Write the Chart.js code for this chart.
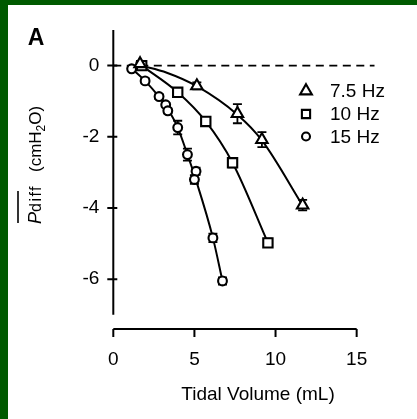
<!DOCTYPE html>
<html>
<head>
<meta charset="utf-8">
<script src="https://cdn.jsdelivr.net/npm/chart.js@4.4.0/dist/chart.umd.min.js"></script>
<style>
  html, body { margin: 0; padding: 0; background: #fff; }
  canvas { display: block; }
</style>
</head>
<body>
<canvas id="pdiffchart" width="417" height="419"></canvas>
<script>
// tidal volume (mL) vs mean Pdiff (cmH2O)
var volume75 = [1.65, 5.15, 7.65, 9.16, 11.67];
var pdiff75 = [0.05, -0.57, -1.35, -2.08, -3.92];
var sem75 = [0.04, 0.1, 0.27, 0.21, 0.15];

var volume10 = [1.75, 3.97, 5.7, 7.35, 9.53];
var pdiff10 = [0.0, -0.75, -1.57, -2.73, -4.98];
var sem10 = [0.03, 0.06, 0.08, 0.13, 0.12];

var volume15 = [1.13, 1.96, 2.82, 3.23, 3.36, 3.97, 4.57, 5.1, 5.0, 6.14, 6.73];
var pdiff15 = [-0.09, -0.43, -0.87, -1.1, -1.27, -1.74, -2.5, -2.97, -3.2, -4.84, -6.05];
var sem15 = [0.03, 0.07, 0.07, 0.05, 0.07, 0.19, 0.17, 0.1, 0.12, 0.12, 0.1];

// fitted curves
var fitVol75 = [1.7, 3.3, 5.15, 7.65, 9.16, 11.7];
var fitPd75 = [0.0, -0.2, -0.58, -1.38, -2.1, -3.95];
var fitVol10 = [1.75, 3.97, 5.7, 7.35, 9.55];
var fitPd10 = [0.0, -0.75, -1.57, -2.73, -5.0];
var fitVol15 = [1.13, 1.96, 2.82, 3.3, 3.97, 4.57, 5.05, 6.14, 6.73];
var fitPd15 = [-0.08, -0.43, -0.88, -1.18, -1.74, -2.5, -3.15, -4.84, -6.05];

var zeroVol = [0, 16.1];
var zeroPd = [0, 0];

var seriesLabels = ["7.5 Hz", "10 Hz", "15 Hz"];
var xTicks = [0, 5, 10, 15];
var yTicks = [0, -2, -4, -6];

var FONT = "'Liberation Sans', Arial, Helvetica, sans-serif";

function pts(xs, ys) {
    return xs.map(function(x, i){ return {x: x, y: ys[i]}; });
}

function markerSet(label, xs, ys, style, r) {
    return {
        label: label,
        data: pts(xs, ys),
        showLine: false,
        pointStyle: style,
        pointRadius: r,
        pointBorderWidth: 2.1,
        borderWidth: 2.1,
        pointBorderColor: '#000',
        borderColor: '#000',
        pointBackgroundColor: '#fff',
        backgroundColor: '#fff',
        order: 0
    };
}

function fitSet(xs, ys) {
    return {
        data: pts(xs, ys),
        showLine: true,
        pointRadius: 0,
        borderColor: '#000',
        borderWidth: 2,
        cubicInterpolationMode: 'monotone',
        order: 1
    };
}

var markerStyles = [['triangle', 6.6], ['rect', 6.6], ['circle', 4.4]];
var legendStyles = [['triangle', 6.8], ['rect', 5.8], ['circle', 4]];

var decor = {
    id: 'decor',
    beforeDraw: function(chart) {
        var c = chart.ctx;
        c.save();
        c.fillStyle = '#fff';
        c.fillRect(0, 0, chart.width, chart.height);
        c.fillStyle = '#005a00';
        c.fillRect(0, 0, chart.width, 5);
        c.fillRect(0, 0, 8, chart.height);
        c.restore();
    },
    beforeDatasetsDraw: function(chart) {
        var c = chart.ctx;
        var xs = chart.scales.x, ys = chart.scales.y;
        var groups = [[volume75, pdiff75, sem75], [volume10, pdiff10, sem10], [volume15, pdiff15, sem15]];
        c.save();
        c.strokeStyle = '#000';
        c.lineWidth = 1.8;
        groups.forEach(function(g){
            g[0].forEach(function(v, i){
                var px = xs.getPixelForValue(v);
                var top = ys.getPixelForValue(g[1][i] + g[2][i]);
                var bot = ys.getPixelForValue(g[1][i] - g[2][i]);
                c.beginPath();
                c.moveTo(px, top); c.lineTo(px, bot);
                c.moveTo(px - 4.5, top); c.lineTo(px + 4.5, top);
                c.moveTo(px - 4.5, bot); c.lineTo(px + 4.5, bot);
                c.stroke();
            });
        });
        c.restore();
    },
    afterDraw: function(chart) {
        var c = chart.ctx;
        var xs = chart.scales.x, ys = chart.scales.y;
        var x0 = xs.getPixelForValue(0);
        var yb = chart.chartArea.bottom;
        c.save();
        c.strokeStyle = '#000';
        c.lineWidth = 2;
        // y axis, stops at -7
        c.beginPath();
        c.moveTo(x0, ys.getPixelForValue(1));
        c.lineTo(x0, ys.getPixelForValue(-7));
        yTicks.forEach(function(t){
            var py = ys.getPixelForValue(t);
            c.moveTo(x0 - 6, py); c.lineTo(x0 + 4, py);
        });
        c.stroke();
        // x axis, detached below
        c.beginPath();
        c.moveTo(x0, yb);
        c.lineTo(xs.getPixelForValue(15), yb);
        xTicks.forEach(function(t){
            var px = xs.getPixelForValue(t);
            c.moveTo(px, yb); c.lineTo(px, yb + 8);
        });
        c.stroke();

        c.fillStyle = '#000';
        // panel letter
        c.font = 'bold 23px ' + FONT;
        c.textAlign = 'center';
        c.textBaseline = 'alphabetic';
        c.fillText('A', 36, 45);

        // x title
        c.font = '19px ' + FONT;
        c.fillText('Tidal Volume (mL)', 258, 400);

        // y title, rotated
        c.save();
        c.translate(41, 224);
        c.rotate(-Math.PI / 2);
        c.textAlign = 'left';
        var x = 0;
        c.font = 'italic 18px ' + FONT;
        c.fillText('P', x, 0);
        x += c.measureText('P').width;
        c.font = '16px ' + FONT;
        c.letterSpacing = '1.5px';
        c.fillText('diff', x, 0);
        x += c.measureText('diff').width;
        c.letterSpacing = '0px';
        c.lineWidth = 1.6;
        c.beginPath();
        c.moveTo(1, -23); c.lineTo(33, -23);
        c.stroke();
        x = 52;
        c.font = '17px ' + FONT;
        c.fillText('(cmH', x, 0);
        x += c.measureText('(cmH').width;
        c.font = '12px ' + FONT;
        c.fillText('2', x, 4);
        x += c.measureText('2').width;
        c.font = '17px ' + FONT;
        c.fillText('O)', x, 0);
        c.restore();

        // legend
        var rows = [91, 114, 136.5];
        c.font = '19px ' + FONT;
        c.textAlign = 'left';
        c.textBaseline = 'middle';
        rows.forEach(function(ry, i){
            c.lineWidth = 2.1;
            c.strokeStyle = '#000';
            c.fillStyle = '#fff';
            Chart.helpers.drawPoint(c, {pointStyle: legendStyles[i][0], radius: legendStyles[i][1], borderWidth: 2.1}, 306, ry);
            c.fillStyle = '#000';
            c.fillText(seriesLabels[i], 330, ry + 1);
        });
        c.restore();
    }
};

var chartdata = {
    datasets: [
        markerSet(seriesLabels[0], volume75, pdiff75, markerStyles[0][0], markerStyles[0][1]),
        markerSet(seriesLabels[1], volume10, pdiff10, markerStyles[1][0], markerStyles[1][1]),
        markerSet(seriesLabels[2], volume15, pdiff15, markerStyles[2][0], markerStyles[2][1]),
        fitSet(fitVol75, fitPd75),
        fitSet(fitVol10, fitPd10),
        fitSet(fitVol15, fitPd15),
        {
            data: pts(zeroVol, zeroPd),
            showLine: true,
            pointRadius: 0,
            borderColor: '#000',
            borderWidth: 1.6,
            borderDash: [8, 5.5],
            order: 2
        }
    ]
};

var ctx = document.getElementById('pdiffchart');
var pdiffChart = new Chart(ctx, {
    type: 'scatter',
    data: chartdata,
    plugins: [decor],
    options: {
        responsive: false,
        animation: false,
        devicePixelRatio: 1,
        layout: { padding: { top: 30, right: 36, left: 0, bottom: 0 } },
        plugins: {
            legend: { display: false },
            tooltip: { enabled: false }
        },
        scales: {
            x: {
                type: 'linear',
                min: 0,
                max: 16.5,
                afterBuildTicks: function(s){ s.ticks = xTicks.map(function(v){ return {value: v}; }); },
                afterFit: function(s){ s.height = 90; },
                grid: { display: false, drawTicks: false },
                border: { display: false },
                ticks: { color: '#000', padding: 19, font: { family: FONT, size: 19 } }
            },
            y: {
                type: 'linear',
                min: -7.4,
                max: 1,
                afterBuildTicks: function(s){ s.ticks = yTicks.map(function(v){ return {value: v}; }); },
                afterFit: function(s){ s.width = 113.3; },
                grid: { display: false, drawTicks: false },
                border: { display: false },
                ticks: { color: '#000', padding: 14, font: { family: FONT, size: 19 } }
            }
        }
    }
});
</script>
</body>
</html>
